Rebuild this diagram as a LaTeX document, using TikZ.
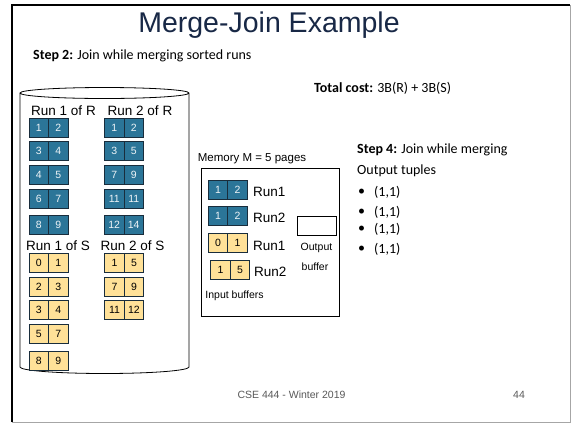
\documentclass[tikz,border=0pt]{standalone}
\usepackage{fontspec}
\setmainfont{Liberation Sans}
\newfontfamily\calib{Carlito}
\definecolor{titleblue}{RGB}{24,40,70}
\definecolor{runblue}{RGB}{43,117,152}
\definecolor{runedge}{RGB}{25,45,60}
\definecolor{runyellow}{RGB}{255,225,152}
\definecolor{footgray}{RGB}{89,89,89}
\tikzset{
  bcell/.style={draw=runedge, line width=0.8pt, fill=runblue, text=white!92!runblue,
    minimum width=19.5pt, minimum height=19pt, inner sep=0pt, font=\fontsize{10.5}{10.5}\selectfont},
  ycell/.style={draw=runedge, line width=0.8pt, fill=runyellow, text=black,
    minimum width=19.5pt, minimum height=19pt, inner sep=0pt, font=\fontsize{10.5}{10.5}\selectfont},
  runlabel/.style={inner sep=0pt, font=\fontsize{13.5}{14}\selectfont},
  memlabel/.style={inner sep=0pt, anchor=west, font=\fontsize{13.5}{14}\selectfont},
  smalltext/.style={inner sep=0pt, font=\fontsize{10.5}{11}\selectfont},
  caltext/.style={inner sep=0pt, anchor=west, font=\calib\fontsize{14}{15}\selectfont},
}
\begin{document}
\begin{tikzpicture}[x=1pt, y=-1pt]
\useasboundingbox (0,0) rectangle (571,424);
\fill[white] (0,0) rectangle (571,424);

% slide frame
\draw[gray!70, line width=0.8pt] (570,5) -- (570,422) -- (12,422);
\draw[black, line width=2.4pt] (12,422) -- (12,5) -- (570,5);

% title and captions
\node[inner sep=0pt, text=titleblue, font=\fontsize{28.5}{30}\selectfont] (title) at (269,25) {Merge-Join Example};
\node[caltext] (step2) at (33,56) {\textbf{Step 2:} Join while merging sorted runs};
\node[caltext] (cost) at (314,88) {\textbf{Total cost:} 3B(R) + 3B(S)};

% disk holding the sorted runs
\draw[line width=0.8pt] (20,93) -- (20,367) arc[start angle=180, end angle=360, x radius=84.5pt, y radius=6.5pt]
  -- (189,93) arc[start angle=0, end angle=180, x radius=84.5pt, y radius=5.5pt]
  arc[start angle=180, end angle=360, x radius=84.5pt, y radius=5.5pt];

\node[runlabel] (r1lab) at (63.5,111) {Run 1 of R};
\node[runlabel] (r2lab) at (140,111) {Run 2 of R};
\node[runlabel] (s1lab) at (58,246) {Run 1 of S};
\node[runlabel] (s2lab) at (132.5,246) {Run 2 of S};

% pages of R (two tuples each)
\foreach \n/\x/\y/\a/\b in {rA/48.5/128/1/2, rB/48.5/151/3/4, rC/48.5/175/4/5, rD/48.5/199/6/7, rE/48.5/225/8/9,
                           rF/124/128/1/2, rG/124/151/3/5, rH/124/175/7/9, rI/124/199/11/11, rJ/124/225/12/14}
{
  \node[bcell] (\n-a) at (\x-9.75,\y) {\a};
  \node[bcell] (\n-b) at (\x+9.75,\y) {\b};
}
% pages of S
\foreach \n/\x/\y/\a/\b in {sA/48.5/262.5/0/1, sB/48.5/286.5/2/3, sC/48.5/310/3/4, sD/48.5/334/5/7, sE/48.5/360.5/8/9,
                           sF/124.2/262.5/1/5, sG/124.2/286.5/7/9, sH/124.2/310/11/12}
{
  \node[ycell] (\n-a) at (\x-9.75,\y) {\a};
  \node[ycell] (\n-b) at (\x+9.75,\y) {\b};
}

% main memory
\node[smalltext, font=\fontsize{11.5}{12}\selectfont] (memlab) at (252,159) {Memory M = 5 pages};
\draw[line width=0.8pt] (201,168.5) rectangle (339,316);

\node[bcell] (m1-a) at (218,190) {1};
\node[bcell] (m1-b) at (237.5,190) {2};
\node[bcell] (m2-a) at (218,216) {1};
\node[bcell] (m2-b) at (237.5,216) {2};
\node[ycell] (m3-a) at (218,242.5) {0};
\node[ycell] (m3-b) at (237.5,242.5) {1};
\node[ycell] (m4-a) at (220.5,270) {1};
\node[ycell] (m4-b) at (240,270) {5};

\node[memlabel] (m1lab) at (253,192) {Run1};
\node[memlabel] (m2lab) at (253,218) {Run2};
\node[memlabel] (m3lab) at (253,246) {Run1};
\node[memlabel] (m4lab) at (254,272) {Run2};

\node[draw, line width=0.8pt, minimum width=39pt, minimum height=19pt, inner sep=0pt] (outbuf) at (316.5,225.5) {};
\node[smalltext] (outlab) at (316.5,247.5) {Output};
\node[smalltext] (buflab) at (315,266.5) {buffer};
\node[smalltext] (inlab) at (234.5,296) {Input buffers};

% join output
\node[caltext] (step4) at (357,150) {\textbf{Step 4:} Join while merging};
\node[caltext] (tuples) at (357,171) {Output tuples};
\foreach \i/\y in {1/192, 2/212, 3/229, 4/249}
{
  \node[caltext] (bul\i) at (358,\y) {•};
  \node[caltext] (tup\i) at (374,\y) {(1,1)};
}

% footer
\node[smalltext, text=footgray] (foot) at (291.5,395) {CSE 444 - Winter 2019};
\node[smalltext, text=footgray] (page) at (519,395) {44};
\end{tikzpicture}
\end{document}
